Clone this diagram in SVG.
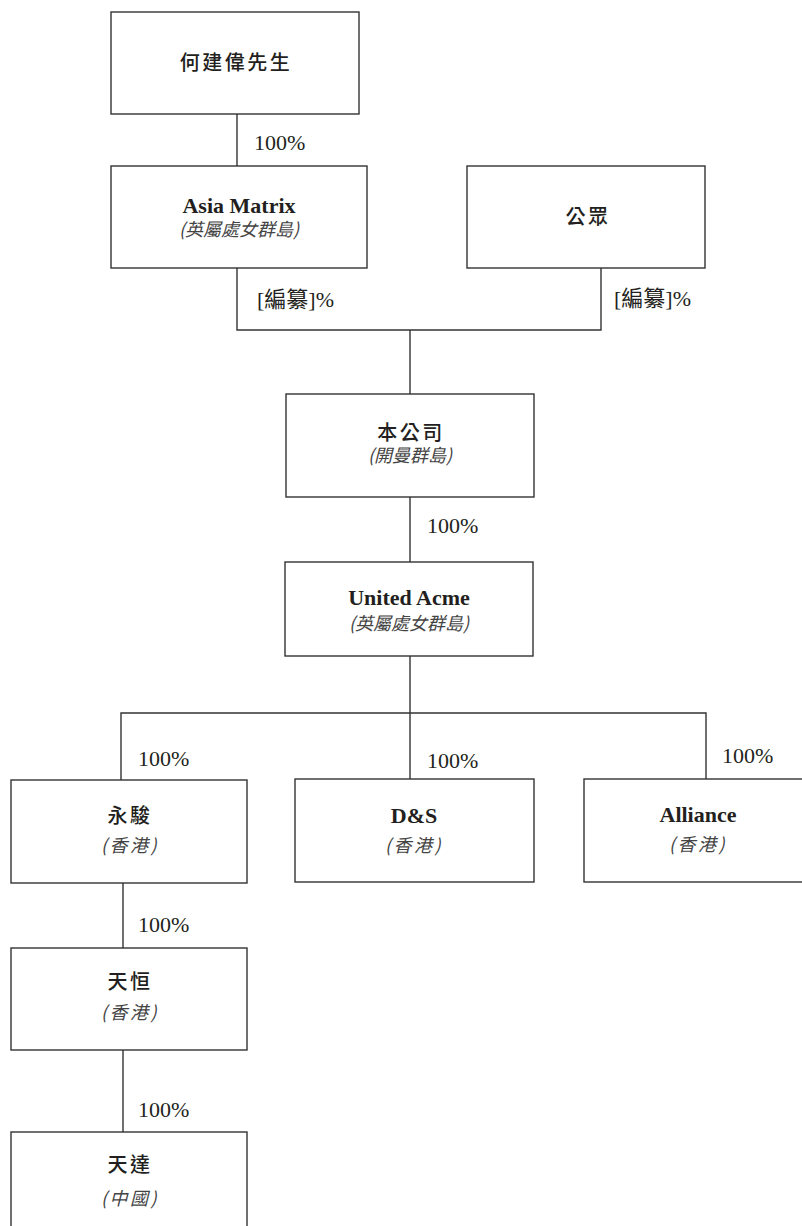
<svg xmlns="http://www.w3.org/2000/svg" width="802" height="1226" viewBox="0 0 802 1226">
<style>
.box{fill:#fff;stroke:#333;stroke-width:1.4}
.ln{fill:none;stroke:#333;stroke-width:1.4}
.cn{font-family:"Noto Sans CJK TC","Noto Sans CJK SC",sans-serif;font-size:20px;font-weight:500;fill:#231f20;text-anchor:middle;letter-spacing:2.5px}
.en{font-family:"Liberation Serif","Noto Sans CJK TC",serif;font-size:22px;font-weight:bold;fill:#231f20;text-anchor:middle}
.sub{font-family:"Noto Sans CJK TC","Noto Sans CJK SC",sans-serif;font-size:18px;font-style:italic;fill:#444;text-anchor:middle}
.pct{font-family:"Liberation Serif","Noto Sans CJK TC",serif;font-size:22px;fill:#231f20}
</style>
<rect width="802" height="1226" fill="#fff"/>
<g id="connectors">
<path class="ln" d="M237,114V166"/>
<path class="ln" d="M237,268V330H601V268"/>
<path class="ln" d="M410,330V394"/>
<path class="ln" d="M410,497V562"/>
<path class="ln" d="M410,656V781"/>
<path class="ln" d="M121,780V713H706V779"/>
<path class="ln" d="M123,883V948"/>
<path class="ln" d="M123,1050V1132"/>
<text class="pct" x="254" y="150">100%</text>
<text class="pct" x="257" y="307">[編纂]%</text>
<text class="pct" x="614" y="306">[編纂]%</text>
<text class="pct" x="427" y="533">100%</text>
<text class="pct" x="138" y="766">100%</text>
<text class="pct" x="427" y="768">100%</text>
<text class="pct" x="722" y="763">100%</text>
<text class="pct" x="138" y="932">100%</text>
<text class="pct" x="138" y="1117">100%</text>
</g>
<g id="node-ho">
<rect class="box" x="111" y="12" width="248" height="102"/>
<text class="cn" x="236" y="70">何建偉先生</text>
</g>
<g id="node-asia">
<rect class="box" x="111" y="166" width="256" height="102"/>
<text class="en" x="239" y="213">Asia Matrix</text>
<text class="sub" x="239" y="236">(英屬處女群島)</text>
</g>
<g id="node-public">
<rect class="box" x="467" y="166" width="238" height="102"/>
<text class="cn" x="588" y="224">公眾</text>
</g>
<g id="node-company">
<rect class="box" x="286" y="394" width="248" height="103"/>
<text class="cn" x="411" y="440">本公司</text>
<text class="sub" x="410" y="462">(開曼群島)</text>
</g>
<g id="node-united">
<rect class="box" x="285" y="562" width="248" height="94"/>
<text class="en" x="409" y="605">United Acme</text>
<text class="sub" x="409" y="630">(英屬處女群島)</text>
</g>
<g id="node-wingchun">
<rect class="box" x="11" y="780" width="236" height="103"/>
<text class="cn" x="130" y="823">永駿</text>
<text class="sub" x="130" y="852" letter-spacing="2.5">(香港)</text>
</g>
<g id="node-ds">
<rect class="box" x="295" y="779" width="239" height="103"/>
<text class="en" x="414" y="823">D&amp;S</text>
<text class="sub" x="414" y="852" letter-spacing="2.5">(香港)</text>
</g>
<g id="node-alliance">
<rect class="box" x="584" y="779" width="230" height="103"/>
<text class="en" x="698" y="822">Alliance</text>
<text class="sub" x="698" y="851" letter-spacing="2.5">(香港)</text>
</g>
<g id="node-tianheng">
<rect class="box" x="11" y="948" width="236" height="102"/>
<text class="cn" x="130" y="989">天恒</text>
<text class="sub" x="130" y="1019" letter-spacing="2.5">(香港)</text>
</g>
<g id="node-tianda">
<rect class="box" x="11" y="1132" width="236" height="110"/>
<text class="cn" x="130" y="1172">天達</text>
<text class="sub" x="130" y="1205" letter-spacing="2.5">(中國)</text>
</g>
</svg>
